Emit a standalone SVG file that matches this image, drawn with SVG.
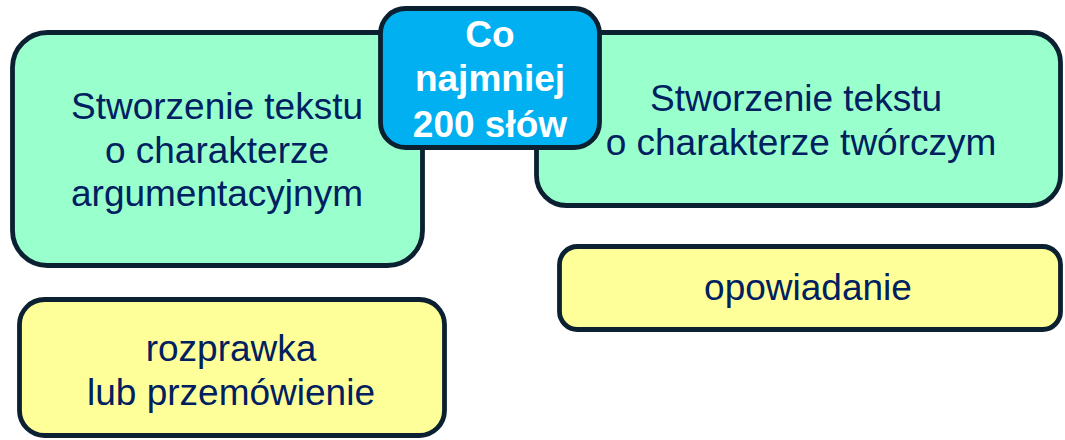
<svg xmlns="http://www.w3.org/2000/svg" width="1065" height="440" viewBox="0 0 1065 440">
<style>
.box{stroke:#0b2131;stroke-width:4.8}
.green{fill:#99FFCC}
.yellow{fill:#FFFF99}
.blue{fill:#00B0F0}
.t{font-family:"Liberation Sans",Arial,sans-serif;font-size:37px;fill:#002060;text-anchor:middle}
.w{font-family:"Liberation Sans",Arial,sans-serif;font-size:37px;font-weight:bold;fill:#FFFFFF;text-anchor:middle}
</style>
<rect width="1065" height="440" fill="#FFFFFF"/>
<g id="connectors"></g>
<g id="node-argumentacyjny">
<rect class="box green" x="12.5" y="32.5" width="410" height="233" rx="35"/>
<text class="t" x="217" y="119">Stworzenie tekstu</text>
<text class="t" x="217" y="163">o charakterze</text>
<text class="t" x="217" y="206">argumentacyjnym</text>
</g>
<g id="node-tworczy">
<rect class="box green" x="536.5" y="32.5" width="524" height="173" rx="30"/>
<text class="t" x="796" y="111">Stworzenie tekstu</text>
<text class="t" x="801" y="155">o charakterze twórczym</text>
</g>
<g id="node-slowa">
<rect class="box blue" x="380.5" y="8.5" width="219" height="139" rx="25"/>
<text class="w" x="490" y="47">Co</text>
<text class="w" x="490" y="91">najmniej</text>
<text class="w" x="490" y="137">200 słów</text>
</g>
<g id="node-opowiadanie">
<rect class="box yellow" x="559.5" y="246.5" width="501" height="83" rx="18"/>
<text class="t" x="808" y="300">opowiadanie</text>
</g>
<g id="node-rozprawka">
<rect class="box yellow" x="19.5" y="299.5" width="425" height="136" rx="25"/>
<text class="t" x="231" y="361">rozprawka</text>
<text class="t" x="231" y="405">lub przemówienie</text>
</g>
</svg>
